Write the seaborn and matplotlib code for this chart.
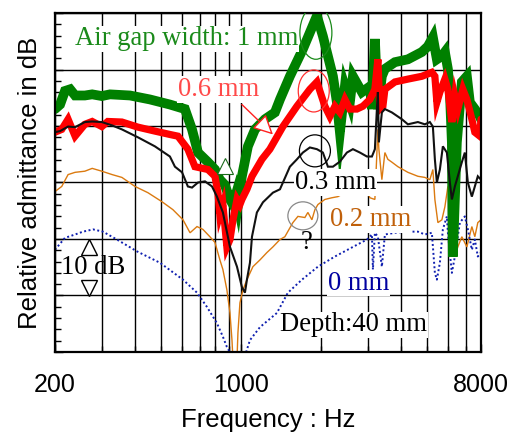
import numpy as np
import pandas as pd
import matplotlib
matplotlib.use("Agg")
import matplotlib.pyplot as plt
from matplotlib.patches import Ellipse
from matplotlib.ticker import FixedLocator, MultipleLocator, NullFormatter
import seaborn as sns

# ---- data (frequency in Hz, relative admittance in dB) ----
green_hz = [200, 209, 218, 228, 238, 259, 276, 300, 322, 383, 455, 541, 616, 655, 690, 752, 799, 834, 870, 910,
            934, 958, 975, 1009, 1063, 1130, 1232, 1343, 1403, 1529, 1711, 1932, 2035, 2220, 2297, 2358, 2462, 2570,
            2639, 2853, 3057, 3111, 3192, 3276, 3391, 3481, 3796, 4248, 4795, 5050, 5274, 5460, 5702, 5852, 6006,
            6110, 6217, 6271, 6380, 6491, 6778, 7079, 7265, 7585, 7919, 8000]
green_db = [43.0, 43.8, 46.2, 46.5, 45.4, 45.4, 45.6, 45.3, 45.6, 45.4, 44.7, 43.8, 43.0, 39.4, 35.3, 33.6, 32.3, 30.5,
            29.6, 27.0, 26.1, 27.9, 26.1, 31.1, 36.4, 39.4, 41.2, 42.4, 44.7, 48.8, 53.6, 59.5, 55.9, 48.8, 44.2, 38.9,
            47.0, 44.2, 48.8, 46.0, 47.0, 43.0, 55.4, 43.0, 48.8, 50.1, 51.3, 51.8, 53.1, 54.1, 55.7, 51.8, 52.4, 53.1,
            50.1, 46.0, 37.1, 16.9, 27.0, 37.1, 47.8, 48.8, 44.2, 43.0, 41.7, 41.2]

red_hz = [200, 212, 224, 238, 259, 276, 300, 316, 357, 410, 475, 541, 580, 632, 672, 752, 799, 820, 834, 856, 886,
          910, 934, 967, 992, 1009, 1054, 1101, 1200, 1286, 1439, 1625, 1818, 1932, 2070, 2162, 2258, 2358, 2462,
          2570, 2731, 2877, 3057, 3192, 3276, 3333, 3421, 3481, 3796, 4248, 4795, 5228, 5366, 5460, 5604, 5852,
          6006, 6217, 6380, 6546, 6837, 7079, 7392, 7585, 7919, 8000]
red_db = [38.9, 39.4, 41.2, 38.2, 40.3, 40.8, 39.9, 40.8, 40.7, 39.8, 39.1, 38.5, 38.2, 35.9, 32.8, 32.3, 31.1, 28.2,
          24.3, 26.1, 18.6, 19.9, 23.4, 27.0, 26.1, 27.0, 28.8, 31.1, 34.1, 35.9, 39.9, 43.5, 46.5, 47.8, 43.5, 41.7,
          43.5, 42.4, 44.7, 43.0, 43.0, 43.5, 44.7, 46.5, 51.8, 43.0, 43.5, 46.5, 47.8, 48.3, 48.8, 49.5, 48.8, 44.2,
          46.0, 48.3, 46.5, 40.7, 45.3, 43.0, 46.5, 44.7, 41.2, 38.9, 38.2, 41.2]

black_hz = [200, 209, 224, 238, 259, 276, 300, 328, 357, 410, 475, 541, 565, 601, 632, 655, 690, 733, 779, 813, 856,
            910, 967, 1009, 1036, 1054, 1082, 1101, 1149, 1211, 1320, 1403, 1529, 1625, 1711, 1818, 1932, 2035, 2125,
            2220, 2358, 2505, 2639, 2804, 2979, 3111, 3192, 3248, 3276, 3304, 3391, 3481, 3698, 4032, 4248, 4632,
            4920, 5138, 5274, 5366, 5460, 5604, 5751, 5954, 6110, 6217, 6380, 6546, 6778, 6957, 7140, 7392, 7585,
            7783, 8000]
black_db = [38.9, 39.1, 39.9, 39.8, 40.7, 40.8, 40.7, 40.1, 39.4, 38.0, 36.4, 34.6, 32.8, 31.8, 29.3, 29.1, 30.0, 30.2,
            29.3, 27.5, 24.7, 18.6, 15.1, 11.5, 10.5, 12.8, 15.8, 20.4, 24.7, 26.5, 28.2, 28.8, 32.8, 34.1, 35.3, 36.2,
            35.9, 35.3, 32.8, 32.8, 33.7, 35.3, 35.9, 35.3, 34.6, 34.6, 35.9, 43.0, 46.0, 37.1, 42.4, 43.0, 42.4, 41.2,
            40.3, 40.7, 40.3, 40.7, 39.9, 34.1, 30.0, 32.3, 36.4, 35.3, 30.0, 27.0, 29.3, 31.1, 33.6, 35.3, 30.0, 27.5,
            29.3, 31.1, 30.5]

orange_hz = [200, 212, 224, 238, 259, 276, 300, 328, 357, 400, 447, 505, 555, 606, 644, 684, 720, 765, 799, 834, 856,
             886, 910, 926, 934, 950, 967, 975, 992, 1018, 1054, 1110, 1180, 1253, 1320, 1403, 1464, 1569, 1639,
             1741, 1787, 1850, 1899, 1949, 2070, 2200, 2317, 2462, 2616, 2755, 2877, 3004, 3057, 3192, 3276, 3304,
             3391, 3481, 3572, 3698, 3896, 4248, 4632, 4920, 5138, 5274, 5366, 5508, 5702, 5852, 6006, 6110, 6217,
             6380, 6546, 6778, 7079, 7392, 7585, 7783, 8000]
orange_db = [28.4, 29.3, 31.4, 31.8, 32.0, 32.5, 32.0, 31.4, 30.9, 29.3, 28.2, 26.6, 25.2, 23.4, 21.1, 22.2, 21.7,
             20.4, 19.4, 16.3, 14.6, 11.0, 6.9, 2.1, -1.4, 0.0, -1.4, 3.4, 8.7, 11.0, 12.8, 15.1, 16.3, 17.6, 18.6,
             19.9, 20.4, 22.9, 24.0, 23.8, 24.7, 23.4, 25.2, 26.1, 27.0, 27.3, 27.5, 28.2, 28.8, 29.1, 29.3, 28.2,
             27.3, 27.0, 39.4, 35.9, 30.5, 35.3, 34.1, 33.6, 32.8, 31.8, 31.1, 30.9, 30.5, 32.3, 27.0, 22.9, 23.4,
             25.7, 29.3, 27.0, 18.6, 16.9, 18.6, 20.4, 18.6, 22.2, 20.4, 22.9, 23.4]

blue_hz = [200, 218, 238, 255, 278, 303, 342, 407, 496, 606, 684, 745, 813, 856, 886, 926, 992, 1036, 1082, 1180,
           1366, 1503, 1697, 1949, 2258, 2616, 2979, 3111, 3138, 3192, 3276, 3391, 3481, 3796, 4248, 4632, 4920,
           5228, 5366, 5460, 5604, 5751, 5954, 6006, 6217, 6380, 6662, 6957, 7140, 7392, 7585, 7783, 8000]
blue_db = [18.1, 20.2, 20.8, 21.3, 21.7, 21.3, 19.9, 17.8, 15.8, 12.8, 10.5, 8.0, 5.1, 2.7, 0.9, -0.7, -1.4, -0.7,
           2.1, 4.4, 6.9, 10.5, 12.8, 15.1, 16.9, 18.5, 19.9, 20.8, 14.6, 21.1, 20.4, 15.1, 20.8, 21.1, 21.3, 21.3,
           20.8, 21.1, 14.0, 12.8, 15.8, 21.7, 24.0, 21.1, 14.0, 16.9, 22.9, 24.0, 21.7, 18.1, 19.9, 16.9, 17.6]

x_ticks = [200, 1000, 8000]
x_grid = [300, 400, 500, 600, 700, 800, 900, 2000, 3000, 4000, 5000, 6000, 7000]

SERIF = ["Liberation Serif", "DejaVu Serif"]
SANS = ["Liberation Sans", "DejaVu Sans"]

sns.set_theme(style="ticks")
plt.rcParams["font.family"] = SANS

fig = plt.figure(figsize=(5.13, 4.32), dpi=100)
ax = fig.add_axes([0.1072, 0.1852, 0.8304, 0.7847])

# curves (thin ones underneath, thick on top, black last)
series = [
    (orange_hz, orange_db, dict(color="#DB7A10", lw=1.0)),
    (blue_hz, blue_db, dict(color="#1020B0", lw=1.4, ls=(0, (1.0, 1.3)))),
    (green_hz, green_db, dict(color="#008000", lw=7.0)),
    (red_hz, red_db, dict(color="#FF0000", lw=5.2)),
    (black_hz, black_db, dict(color="#111111", lw=1.5)),
]
for hz, db, style in series:
    df = pd.DataFrame({"hz": hz, "db": db})
    sns.lineplot(data=df, x="hz", y="db", ax=ax, sort=False, estimator=None,
                 legend=False, solid_joinstyle="miter", **style)

ax.set_xscale("log")
ax.set_xlim(200, 8000)
ax.set_ylim(0, 60)
ax.xaxis.set_major_locator(FixedLocator(x_ticks))
ax.xaxis.set_minor_locator(FixedLocator(x_grid))
ax.xaxis.set_minor_formatter(NullFormatter())
ax.set_xticklabels([str(t) for t in x_ticks])
ax.yaxis.set_major_locator(MultipleLocator(10))
ax.yaxis.set_minor_locator(MultipleLocator(2))
ax.set_yticklabels([])

ax.grid(True, which="both", axis="x", color="black", lw=1.0)
ax.grid(True, which="major", axis="y", color="black", lw=1.0)
ax.tick_params(which="both", direction="in", top=False, right=False, colors="black")
ax.tick_params(which="major", length=6, width=1)
ax.tick_params(which="minor", length=4, width=1)
ax.tick_params(axis="x", labelsize=18, pad=15)
for sp in ax.spines.values():
    sp.set_color("black")
    sp.set_linewidth(1.6)

ax.set_xlabel("Frequency : Hz", fontsize=18.5, labelpad=8, color="black")
ax.set_ylabel("Relative admittance in dB", fontsize=18.5, labelpad=6, color="black")

# annotations: curve labels sit on white boxes that hide the grid behind them
fs = 19.2
box = dict(fc="white", ec="none", pad=0.5)
ax.text(238, 55.4, "Air gap width: 1 mm", family=SERIF, fontsize=fs, color="#1A8A1A", va="center", bbox=box, zorder=6)
ax.text(580, 46.5, "0.6 mm", family=SERIF, fontsize=fs, color="#FF4A4A", va="center", bbox=box, zorder=6)
ax.text(1597, 30.0, "0.3 mm", family=SERIF, fontsize=fs, color="black", va="center", bbox=box, zorder=6)
ax.text(2162, 23.4, "0.2 mm", family=SERIF, fontsize=fs, color="#C0600A", va="center", bbox=box, zorder=6)
ax.text(2125, 12.2, "0 mm", family=SERIF, fontsize=fs, color="#0000A0", va="center", bbox=box, zorder=6)
ax.text(1403, 4.8, "Depth:40 mm", family=SERIF, fontsize=fs, color="black", va="center", bbox=box, zorder=6)
ax.text(1764, 19.4, "?", family=SERIF, fontsize=fs, color="black", va="center", ha="center", zorder=6)
ax.text(278, 14.9, "10 dB", family=SERIF, fontsize=fs, color="black", va="center", ha="center", zorder=6)

# 10 dB scale markers
ax.plot([268], [18.6], marker="^", ms=11, mfc="white", mec="black", mew=1.0, ls="none")
ax.plot([268], [11.3], marker="v", ms=11, mfc="white", mec="black", mew=1.0, ls="none")
# white triangle on the green dip
ax.plot([870], [33.0], marker="^", ms=11, mfc="white", mec="#1A6A1A", mew=0.8, ls="none")

# red arrow toward the 0.6 mm curve
ax.annotate("", xy=(1320, 38.5), xytext=(1009, 43.8),
            arrowprops=dict(arrowstyle="-|>,head_length=0.6,head_width=0.3", mutation_scale=20,
                            fc="white", ec="#FF2020", lw=1.0, shrinkA=0, shrinkB=0))


def to_axes(hz, db):
    return np.log10(hz / 200) / np.log10(40), db / 60


ellipses = [(1915, 56.5, 32, 53, "#1A8A1A"), (1880, 46.2, 31, 42, "#FF3030"),
            (1899, 35.6, 31, 32, "black"), (1711, 24.1, 30, 28, "#888888")]
for hz, db, wpx, hpx, col in ellipses:
    cx, cy = to_axes(hz, db)
    ax.add_patch(Ellipse((cx, cy), wpx / 426, hpx / 339, transform=ax.transAxes,
                         fill=False, ec=col, lw=0.9, zorder=7))

fig.savefig("out.png", dpi=100)
